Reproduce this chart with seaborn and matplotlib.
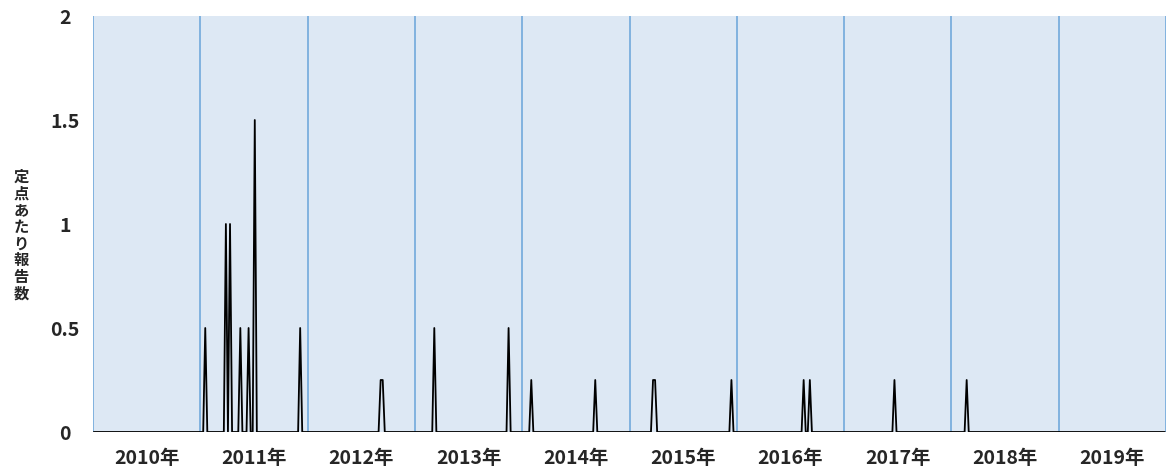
"""
定点あたり報告数（週別, 2010年〜2019年）の折れ線グラフ
"""

import numpy as np
import pandas as pd
import matplotlib
matplotlib.use("Agg")
import matplotlib.pyplot as plt
import seaborn as sns

# ── データ ───────────────────────────────────────────────────────────────
years = ["2010年", "2011年", "2012年", "2013年", "2014年",
         "2015年", "2016年", "2017年", "2018年", "2019年"]
weeks_per_year = 52

# 報告があった週（2010年第1週を0とする通し番号）と定点あたり報告数
report_week = [54, 64, 66, 71, 75, 78, 100, 139, 140, 165, 201,
               212, 243, 271, 272, 309, 344, 347, 388, 423]
report_value = [0.5, 1.0, 1.0, 0.5, 0.5, 1.5, 0.5, 0.25, 0.25, 0.5, 0.5,
                0.25, 0.25, 0.25, 0.25, 0.25, 0.25, 0.25, 0.25, 0.25]

y_ticks = [0, 0.5, 1, 1.5, 2]
y_tick_labels = ["0", "0.5", "1", "1.5", "2"]
y_label = "定点あたり報告数"

n_weeks = weeks_per_year * len(years)
values = np.zeros(n_weeks)
values[report_week] = report_value
df = pd.DataFrame({"week": np.arange(n_weeks) + 0.4, "value": values})

# ── 描画 ─────────────────────────────────────────────────────────────────
sns.set_style("white")
plt.rcParams["font.family"] = ["Noto Sans CJK JP", "DejaVu Sans"]
plt.rcParams["axes.unicode_minus"] = False

fig = plt.figure(figsize=(11.67, 4.73), dpi=100)
ax = fig.add_axes([93 / 1167, 41 / 473, 1073 / 1167, 416 / 473])
ax.set_facecolor("#dde8f4")

for k in range(len(years) + 1):
    ax.axvline(k * weeks_per_year, color="#7aaedd", linewidth=1.3, zorder=1)

sns.lineplot(data=df, x="week", y="value", color="black", linewidth=1.3,
             ax=ax, zorder=3)

ax.set_xlim(0, n_weeks)
ax.set_ylim(0, 2)
for s in ax.spines.values():
    s.set_visible(False)

ax.set_xticks([weeks_per_year * k + weeks_per_year / 2 for k in range(len(years))])
ax.set_xticklabels(years, fontsize=14, fontweight="bold")
ax.set_yticks(y_ticks)
ax.set_yticklabels(y_tick_labels, fontsize=14, fontweight="bold", ha="center")
ax.tick_params(axis="x", length=0, pad=12)
ax.tick_params(axis="y", length=0, pad=20)
ax.set_xlabel("")
ax.set_ylabel("")

fig.text(21 / 1167, 1 - 235 / 473, "\n".join(y_label), fontsize=11,
         fontweight="bold", ha="center", va="center", linespacing=1.05)

fig.savefig("out.png", dpi=100)
